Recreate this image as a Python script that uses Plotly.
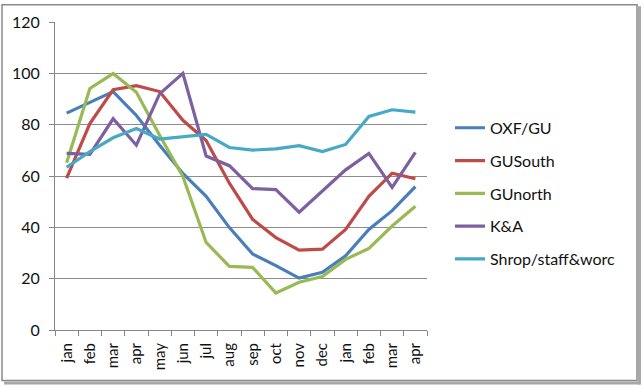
import plotly.graph_objects as go

months = ["jan", "feb", "mar", "apr", "may", "jun", "jul", "aug", "sep", "oct", "nov", "dec", "jan", "feb", "mar", "apr"]
oxf_gu = [84.5, 88.7, 92.9, 83.6, 72, 61, 52.1, 39.9, 29.6, 25.1, 20.2, 22.5, 28.9, 39.2, 46.5, 55.9]
gu_south = [59.2, 80.4, 93.6, 95.2, 92.9, 81.7, 73.8, 57.2, 43.1, 36, 31.1, 31.5, 39.2, 52.1, 61.1, 58.9]
gu_north = [65.2, 94.1, 99.9, 92.6, 75.9, 59.8, 34.1, 24.8, 24.4, 14.4, 18.6, 20.8, 27.5, 31.8, 40.5, 48.2]
k_and_a = [68.8, 68.4, 82.3, 72, 92, 100, 67.8, 64, 55.1, 54.7, 45.9, 54, 62.4, 68.8, 55.6, 69.2]
shrop = [63.4, 69.5, 74.9, 78.5, 74.4, 75.2, 76.2, 71.1, 70.1, 70.6, 71.8, 69.5, 72.3, 83.2, 85.8, 84.9]

series_names = ["OXF/GU", "GUSouth", "GUnorth", "K&A", "Shrop/staff&worc"]
series_values = [oxf_gu, gu_south, gu_north, k_and_a, shrop]
colors = ["#4A7EBB", "#BE4B48", "#98B954", "#7D60A0", "#46AAC5"]

y_ticks = [0, 20, 40, 60, 80, 100, 120]

x_idx = list(range(len(months)))

fig = go.Figure()
for name, vals, col in zip(series_names, series_values, colors):
    fig.add_trace(go.Scatter(
        x=x_idx, y=vals, name=name, mode="lines",
        line=dict(color=col, width=3.2),
        legendgroup=name,
    ))

# plot area in pixels
L, R, T, B = 55, 427, 19, 330
W, H = 644, 389

def px_x(p):
    return (p - L) / (R - L)

def px_y(p):
    return (B - p) / (B - T)

fig.update_layout(
    width=W, height=H,
    margin=dict(l=L, r=W - R, t=T, b=H - B, pad=0),
    paper_bgcolor="white", plot_bgcolor="white",
    font=dict(family="Lato, 'Open Sans', sans-serif", size=16, color="#111111"),
    showlegend=True,
    legend=dict(
        x=px_x(450), xanchor="left",
        y=px_y(192), yanchor="middle",
        tracegroupgap=9,
        font=dict(size=16, color="#111111"),
        bgcolor="rgba(0,0,0,0)",
        itemwidth=30,
    ),
    xaxis=dict(
        range=[-0.5, len(months) - 0.5],
        tickmode="array", tickvals=x_idx, ticktext=months,
        tickangle=-90, ticks="", ticklabelstandoff=6,
        showgrid=False, zeroline=False,
        showline=True, linecolor="#868686", linewidth=1,
        minor=dict(tickmode="array", tickvals=[i - 0.5 for i in range(len(months) + 1)],
                   ticks="outside", ticklen=5, tickcolor="#868686", showgrid=False),
        tickfont=dict(size=15),
    ),
    yaxis=dict(
        range=[0, 120],
        tickmode="array", tickvals=y_ticks,
        ticks="outside", ticklen=5, tickcolor="#868686", ticklabelstandoff=6,
        showgrid=True, gridcolor="#8C8C8C", gridwidth=1,
        zeroline=False,
        showline=True, linecolor="#868686", linewidth=1,
        tickfont=dict(size=16),
    ),
    shapes=[
        # outer shadow
        dict(type="line", xref="paper", yref="paper",
             x0=px_x(4), x1=px_x(640), y0=px_y(383.5), y1=px_y(383.5),
             line=dict(color="#A8A8A8", width=3), layer="above"),
        dict(type="line", xref="paper", yref="paper",
             x0=px_x(639.5), x1=px_x(639.5), y0=px_y(3), y1=px_y(385),
             line=dict(color="#A8A8A8", width=3), layer="above"),
        # outer border
        dict(type="rect", xref="paper", yref="paper",
             x0=px_x(2), x1=px_x(637), y0=px_y(1.5), y1=px_y(381),
             line=dict(color="#8A8A8A", width=1.5), fillcolor="rgba(0,0,0,0)", layer="above"),
    ],
)

fig.write_html("out.html", config={"displayModeBar": False},
               post_script="document.body.style.margin='0';document.body.style.overflow='hidden';")
